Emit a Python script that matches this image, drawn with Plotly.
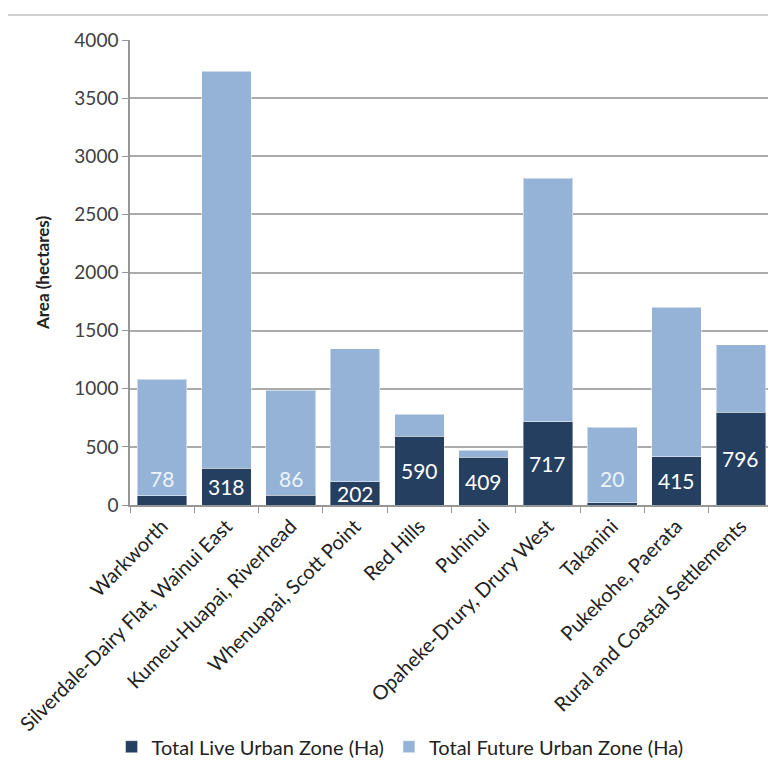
import plotly.graph_objects as go

categories = ["Warkworth", "Silverdale-Dairy Flat, Wainui East", "Kumeu-Huapai, Riverhead",
              "Whenuapai, Scott Point", "Red Hills", "Puhinui", "Opaheke-Drury, Drury West",
              "Takanini", "Pukekohe, Paerata", "Rural and Coastal Settlements"]
live = [78, 318, 86, 202, 590, 409, 717, 20, 415, 796]
future = [1003, 3412, 903, 1144, 192, 62, 2094, 648, 1284, 584]
y_ticks = [0, 500, 1000, 1500, 2000, 2500, 3000, 3500, 4000]

DARK = "#253F60"
LIGHT = "#95B3D7"
FONT = "Lato"

fig = go.Figure()
fig.add_trace(go.Bar(x=categories, y=live, name="Total Live Urban Zone (Ha)",
                     marker=dict(color=DARK, line=dict(color="rgba(255,255,255,0.4)", width=1))))
fig.add_trace(go.Bar(x=categories, y=future, name="Total Future Urban Zone (Ha)",
                     marker=dict(color=LIGHT, line=dict(color="rgba(255,255,255,0.5)", width=1))))

annotations = []
for c, v in zip(categories, live):
    ly = v / 2 if v >= 150 else 225
    annotations.append(dict(x=c, y=ly, text=str(v), showarrow=False, xref="x", yref="y",
                            font=dict(family=FONT, size=21, color="#FFFFFF" if v >= 150 else "#EEF3FA")))

fig.update_layout(
    barmode="stack",
    bargap=0.23,
    width=768, height=753,
    margin=dict(l=122, r=3, t=32, b=256),
    paper_bgcolor="white", plot_bgcolor="white",
    font=dict(family=FONT, size=19, color="#404040"),
    annotations=annotations,
    legend=dict(orientation="h", x=0.42, xanchor="center", y=0.019, yref="container",
                yanchor="middle", font=dict(size=20, color="#222222"), traceorder="normal",
                itemwidth=30, tracegroupgap=0),
    shapes=[dict(type="line", xref="paper", yref="paper", x0=-0.25, x1=1.01,
                 y0=1.0538, y1=1.0538, line=dict(color="#C0C0C0", width=1.5))],
)
fig.update_xaxes(tickangle=-45, showline=True, linecolor="#969696", linewidth=1.5,
                 ticks="outside", ticklen=6, tickcolor="#969696", tickson="boundaries",
                 tickfont=dict(size=20, color="#222222"), showgrid=False, automargin=False)
fig.update_yaxes(range=[0, 4000], tickvals=y_ticks, showgrid=True, gridcolor="#ABABAB",
                 gridwidth=1.5, showline=True, linecolor="#969696", linewidth=1.5,
                 ticks="outside", ticklen=6, tickcolor="#969696", zeroline=False, automargin=False,
                 tickfont=dict(size=19, color="#404040"),
                 title=dict(text="<b>Area (hectares)</b>", font=dict(size=17, color="#222222"), standoff=20))

fig.write_html("out.html")
